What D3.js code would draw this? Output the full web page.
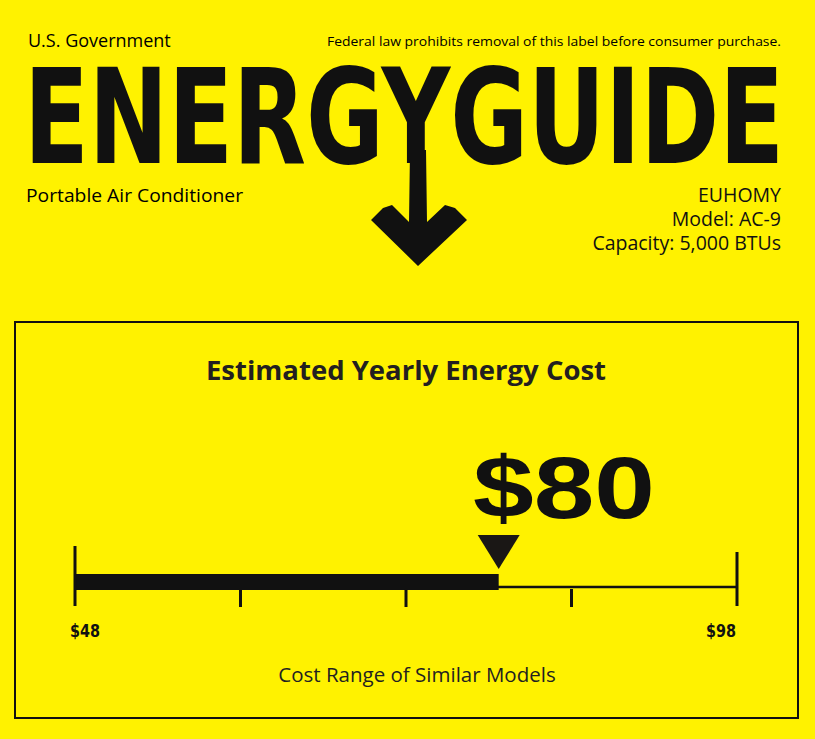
<!DOCTYPE html>
<html><head><meta charset="utf-8">
<script src="https://cdn.jsdelivr.net/npm/d3@7"></script>
<style>body{margin:0;background:#fff200;}svg{display:block;}</style>
</head><body><div id="chart"></div>
<script>
// --- Data ---
const rangeEnds = [48, 98];
const estimatedCost = 80;
const tickCount = 4;
const headerLeft = ["U.S. Government", "Portable Air Conditioner"];
const productLines = ["EUHOMY", "Model: AC-9", "Capacity: 5,000 BTUs"];
const notice = "Federal law prohibits removal of this label before consumer purchase.";

const W = 815, H = 739;
const svg = d3.select("#chart").append("svg").attr("width", W).attr("height", H);
svg.append("rect").attr("width", W).attr("height", H).attr("fill", "#fff200");
const font = "'Open Sans', 'Noto Sans', sans-serif";
const narrow = "'Liberation Sans Narrow', 'DejaVu Sans Condensed', sans-serif";

// --- Header ---
svg.append("text").attr("x", 28).attr("y", 47).attr("font-family", font).attr("font-size", 18).text(headerLeft[0]);
svg.append("text").attr("x", 327).attr("y", 46).attr("font-family", font).attr("font-size", 13.5)
    .attr("textLength", 454).attr("lengthAdjust", "spacingAndGlyphs").text(notice);
svg.append("text").attr("x", 26).attr("y", 202).attr("font-family", font).attr("font-size", 18)
    .attr("textLength", 217).attr("lengthAdjust", "spacingAndGlyphs").text(headerLeft[1]);
svg.selectAll(".prod").data(productLines).enter().append("text")
    .attr("x", 781).attr("y", (d, i) => 202 + i * 24).attr("text-anchor", "end")
    .attr("font-family", font).attr("font-size", 19.5).attr("fill", "#111").text(d => d);

// Logo
svg.append("text").attr("x", 24).attr("y", 163).attr("font-family", narrow)
    .attr("font-weight", "bold").attr("font-size", 132).attr("textLength", 760).attr("lengthAdjust", "spacingAndGlyphs")
    .attr("fill", "#111").text("ENERGYGUIDE");
// arrow stem from the Y
svg.append("path").attr("fill", "#111")
    .attr("d", "M410,150 L426,150 L427,222 L445,205 L455,208 L467,220 L418,266 L371,220 L383,208 L392,205 L409,222 Z");

// --- Cost box ---
svg.append("rect").attr("x", 15).attr("y", 322).attr("width", 783).attr("height", 396)
    .attr("fill", "none").attr("stroke", "#111").attr("stroke-width", 2);
svg.append("text").attr("x", 406).attr("y", 380).attr("text-anchor", "middle").attr("font-family", font)
    .attr("font-weight", "bold").attr("font-size", 27.5).attr("fill", "#231f20").text("Estimated Yearly Energy Cost");

const x = d3.scaleLinear().domain(rangeEnds).range([75, 737]);
const cx = x(estimatedCost);

svg.append("text").attr("x", 473).attr("y", 518).attr("font-family", "'Liberation Sans', Arial, sans-serif")
    .attr("font-weight", "bold").attr("font-size", 88).attr("textLength", 182).attr("lengthAdjust", "spacingAndGlyphs")
    .attr("fill", "#111").text("$" + estimatedCost);

// thin baseline
svg.append("line").attr("x1", x(rangeEnds[0])).attr("x2", x(rangeEnds[1])).attr("y1", 587).attr("y2", 587)
    .attr("stroke", "#111").attr("stroke-width", 2.5);
// thick bar up to estimate
svg.append("rect").attr("x", x(rangeEnds[0])).attr("y", 574).attr("width", cx - x(rangeEnds[0])).attr("height", 16).attr("fill", "#111");
// end ticks
svg.append("line").attr("x1", x(rangeEnds[0])).attr("x2", x(rangeEnds[0])).attr("y1", 546).attr("y2", 606).attr("stroke", "#111").attr("stroke-width", 3);
svg.append("line").attr("x1", x(rangeEnds[1])).attr("x2", x(rangeEnds[1])).attr("y1", 552).attr("y2", 606).attr("stroke", "#111").attr("stroke-width", 3);
// inner ticks
const step = (rangeEnds[1] - rangeEnds[0]) / tickCount;
const inner = d3.range(1, tickCount).map(i => rangeEnds[0] + i * step);
svg.selectAll(".tk").data(inner).enter().append("line")
    .attr("x1", d => x(d)).attr("x2", d => x(d)).attr("y1", 589).attr("y2", 607)
    .attr("stroke", "#111").attr("stroke-width", 3);
// marker triangle
svg.append("path").attr("fill", "#1a1715")
    .attr("d", `M${cx - 21},535 L${cx + 21},535 L${cx},569 Z`);
// end labels
svg.selectAll(".endlab").data(rangeEnds).enter().append("text")
    .attr("x", (d, i) => x(d) + (i ? -1 : -5)).attr("y", 637).attr("text-anchor", (d, i) => i ? "end" : "start")
    .attr("font-family", narrow).attr("font-weight", "bold").attr("font-size", 18)
    .attr("textLength", 30).attr("lengthAdjust", "spacingAndGlyphs").attr("fill", "#111").text(d => "$" + d);

svg.append("text").attr("x", 417).attr("y", 682).attr("text-anchor", "middle").attr("font-family", font)
    .attr("font-size", 20.5).attr("fill", "#231f20").text("Cost Range of Similar Models");
</script></body></html>
